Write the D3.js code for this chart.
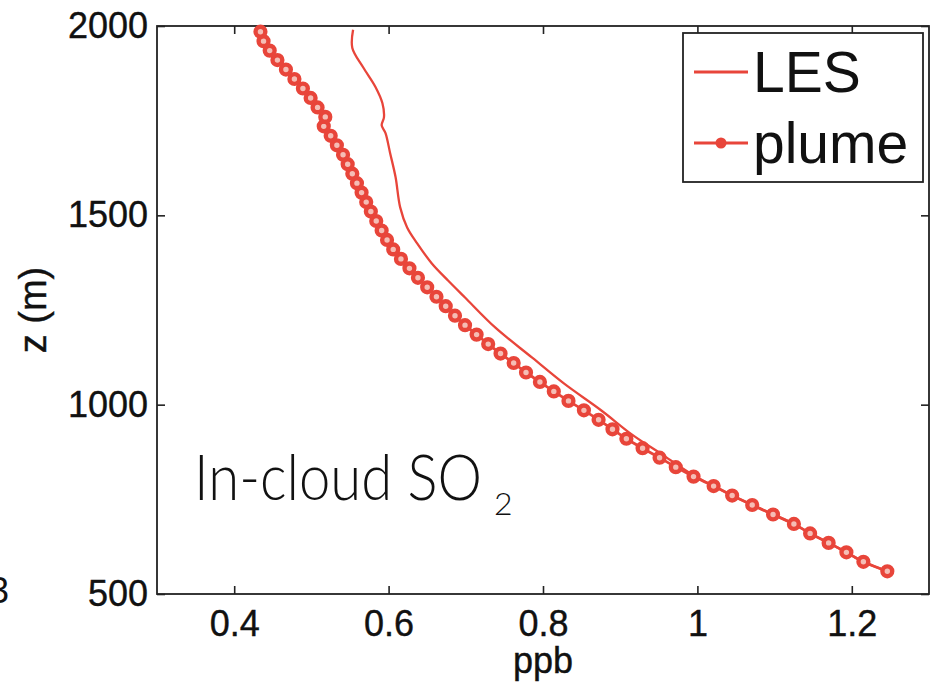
<!DOCTYPE html>
<html>
<head>
<meta charset="utf-8">
<script src="https://cdn.jsdelivr.net/npm/d3@7"></script>
<style>
  html, body { margin: 0; padding: 0; background: #fff; }
  svg { display: block; }
</style>
</head>
<body>
<svg id="chart" width="941" height="684"></svg>
<script>
// ---- Data ----
const plumeZ = [560,585,610,635,660,685,710,735,760,785,810,835,860,885,910,935,960,985,1010,1035,1060,1085,1110,1135,1160,1185,1210,1235,1260,1285,1310,1335,1360,1385,1410,1435,1460,1485,1510,1535,1560,1585,1610,1635,1660,1685,1710,1735,1760,1785,1810,1835,1860,1885,1910,1935,1960,1985];
const plumePPB = [1.246,1.215,1.193,1.170,1.146,1.125,1.098,1.071,1.045,1.021,0.995,0.972,0.951,0.929,0.908,0.890,0.872,0.853,0.833,0.814,0.796,0.778,0.762,0.745,0.729,0.714,0.699,0.686,0.674,0.662,0.650,0.638,0.627,0.616,0.606,0.598,0.591,0.584,0.577,0.571,0.565,0.559,0.553,0.547,0.541,0.533,0.525,0.516,0.518,0.508,0.499,0.489,0.478,0.467,0.456,0.446,0.438,0.434];

const lesZ = [560,585,610,635,660,685,710,735,760,785,817,870,923,984,1056,1124,1204,1283,1328,1373,1426,1468,1521,1601,1664,1717,1738,1759,1796,1839,1891,1942,1990];
const lesPPB = [1.246,1.215,1.193,1.170,1.146,1.125,1.098,1.071,1.045,1.021,0.992,0.953,0.914,0.876,0.827,0.786,0.738,0.699,0.677,0.656,0.637,0.624,0.615,0.609,0.602,0.596,0.591,0.594,0.592,0.583,0.567,0.553,0.554];

const xTicks = [0.4, 0.6, 0.8, 1, 1.2];
const yTicks = [500, 1000, 1500, 2000];
const seriesNames = ["LES", "plume"];
const xLabel = "ppb";
const yLabel = "z (m)";

// ---- Layout ----
const RED = "#e8453a";
const AXIS = "#222";
const svg = d3.select("#chart");
const padL = 157, padR = 929, padT = 26, padB = 594;

const x = d3.scaleLinear().domain([0.3, 1.3]).range([padL, padR]);
const y = d3.scaleLinear().domain([500, 2000]).range([padB, padT]);

const tickFont = "Liberation Sans, Arial, Helvetica, sans-serif";

function styleAxis(g, showLabels) {
  g.selectAll(".domain").remove();
  g.selectAll(".tick line").attr("stroke", AXIS).attr("stroke-width", 1.6);
  g.selectAll("text")
    .attr("font-family", tickFont)
    .attr("font-size", 36)
    .attr("fill", "#111")
    .attr("stroke", "#111").attr("stroke-width", 0.4)
    .style("display", showLabels ? null : "none");
}

// Axes
svg.append("g").attr("transform", `translate(0,${padB})`)
  .call(d3.axisBottom(x).tickValues(xTicks).tickFormat(d3.format("~g")).tickSizeInner(-8).tickSizeOuter(0).tickPadding(16))
  .call(g => styleAxis(g, true));
svg.append("g").attr("transform", `translate(0,${padT})`)
  .call(d3.axisTop(x).tickValues(xTicks).tickSizeInner(-8).tickSizeOuter(0))
  .call(g => styleAxis(g, false));
svg.append("g").attr("transform", `translate(${padL},0)`)
  .call(d3.axisLeft(y).tickValues(yTicks).tickFormat(d3.format("d")).tickSizeInner(-8).tickSizeOuter(0).tickPadding(9))
  .call(g => styleAxis(g, true));
svg.append("g").attr("transform", `translate(${padR},0)`)
  .call(d3.axisRight(y).tickValues(yTicks).tickSizeInner(-8).tickSizeOuter(0))
  .call(g => styleAxis(g, false));

// Box
svg.append("rect")
  .attr("x", padL).attr("y", padT)
  .attr("width", padR - padL).attr("height", padB - padT)
  .attr("fill", "none").attr("stroke", AXIS).attr("stroke-width", 1.8);

// Lines
const les = lesZ.map((z, i) => ({ z, v: lesPPB[i] }));
const plume = plumeZ.map((z, i) => ({ z, v: plumePPB[i] }));
const line = d3.line().x(d => x(d.v)).y(d => y(d.z)).curve(d3.curveCatmullRom.alpha(0.5));

svg.append("path").datum(les)
  .attr("d", line).attr("fill", "none")
  .attr("stroke", RED).attr("stroke-width", 2.3).attr("stroke-linejoin", "round");

svg.append("path").datum(plume)
  .attr("d", line).attr("fill", "none")
  .attr("stroke", RED).attr("stroke-width", 2.8);

svg.append("g").selectAll("circle").data(plume).join("circle")
  .attr("cx", d => x(d.v)).attr("cy", d => y(d.z))
  .attr("r", 4.9)
  .attr("fill", "#f5bdb5")
  .attr("stroke", RED).attr("stroke-width", 4.4);

// Legend
const lg = svg.append("g");
lg.append("rect").attr("x", 683).attr("y", 33).attr("width", 240).attr("height", 149)
  .attr("fill", "#fff").attr("stroke", AXIS).attr("stroke-width", 1.8);
const legendRows = [{ name: seriesNames[0], cy: 72, marker: false }, { name: seriesNames[1], cy: 143, marker: true }];
legendRows.forEach(r => {
  lg.append("line").attr("x1", 694).attr("x2", 748).attr("y1", r.cy).attr("y2", r.cy)
    .attr("stroke", RED).attr("stroke-width", 2.8);
  if (r.marker) lg.append("circle").attr("cx", 721).attr("cy", r.cy).attr("r", 5.5).attr("fill", RED);
  lg.append("text").attr("x", 753).attr("y", r.cy + 20)
    .attr("font-family", tickFont).attr("font-size", 57).attr("fill", "#111").text(r.name);
});

// Axis labels
svg.append("text").attr("x", (padL + padR) / 2).attr("y", 673)
  .attr("text-anchor", "middle").attr("font-family", tickFont).attr("font-size", 36).attr("fill", "#111")
  .attr("stroke", "#111").attr("stroke-width", 0.4)
  .text(xLabel);
svg.append("text").attr("transform", `translate(46,${(padT + padB) / 2}) rotate(-90)`)
  .attr("text-anchor", "middle").attr("font-family", tickFont).attr("font-size", 38).attr("fill", "#111")
  .attr("stroke", "#111").attr("stroke-width", 0.4)
  .text(yLabel);

// Annotation (one text element, subscript as tspan)
const ann = svg.append("text").attr("x", 194).attr("y", 500)
  .attr("font-family", "Lato, 'Open Sans', sans-serif").attr("font-weight", 300)
  .attr("font-size", 63).attr("fill", "#111");
ann.append("tspan")
  .attr("textLength", 288).attr("lengthAdjust", "spacingAndGlyphs")
  .text("In-cloud SO");
ann.append("tspan").attr("x", 494).attr("y", 515).attr("font-size", 32).text("2");

// Partial label at left edge (cut off in reference)
svg.append("text").attr("x", 9).attr("y", 603).attr("text-anchor", "end")
  .attr("font-family", tickFont).attr("font-size", 36).attr("fill", "#111").text("3");
</script>
</body>
</html>
